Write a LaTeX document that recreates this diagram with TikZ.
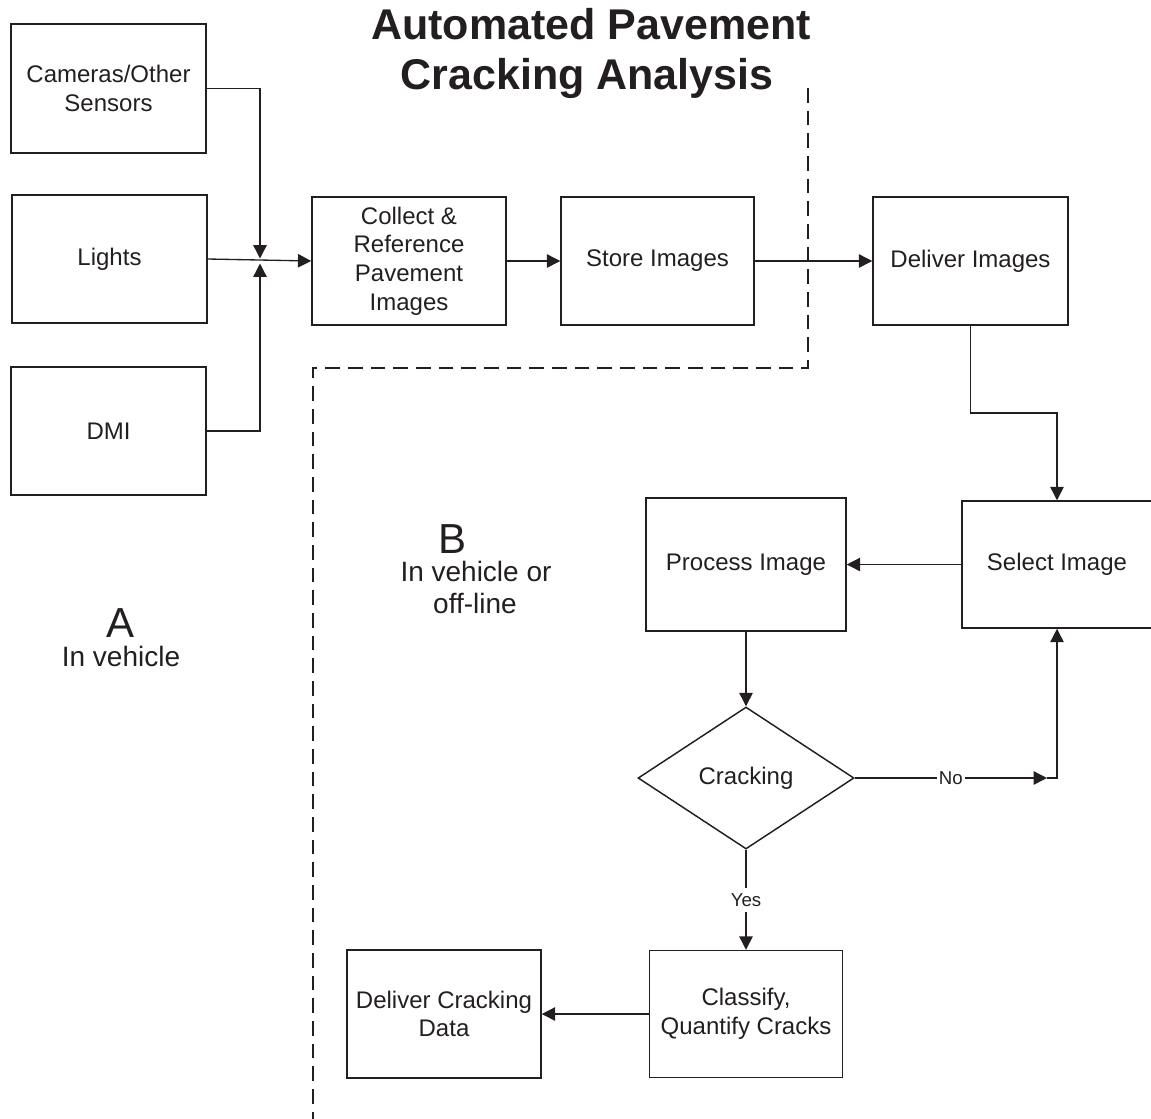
\documentclass[tikz,border=0pt]{standalone}
\usepackage{fontspec}
\setmainfont{Liberation Sans}
\usetikzlibrary{arrows.meta,shapes.geometric}
\definecolor{ink}{RGB}{35,31,32}
\begin{document}
\begin{tikzpicture}[x=0.75pt,y=-0.75pt,
  wh/.style 2 args={minimum width=#1*0.75pt, minimum height=#2*0.75pt},
  box/.style={draw=ink, line width=1.1pt, inner sep=0pt, align=center,
    text=ink, font=\fontsize{18}{21.5}\selectfont},
  decision/.style={box, shape=diamond},
  conn/.style={draw=ink, line width=1pt},
  arr/.style={conn, -{Triangle[length=10pt,width=10pt]}},
  lbl/.style={fill=white, text=ink, inner sep=1.5pt, font=\fontsize{14}{16}\selectfont},
  title/.style={anchor=base, text=ink, inner sep=0pt, font=\fontsize{32.25}{38}\selectfont\bfseries},
  biglabel/.style={anchor=base, text=ink, inner sep=0pt, font=\fontsize{31.5}{36}\selectfont},
  sublabel/.style={anchor=base, text=ink, inner sep=0pt, font=\fontsize{21}{24}\selectfont},
  zone/.style={draw=ink, line width=1.5pt, dash pattern=on 11pt off 6pt}
]
\useasboundingbox (0,0) rectangle (1151,1118);

% heading
\node[title] (head1) at (591,39) {Automated Pavement};
\node[title] (head2) at (587,89) {Cracking Analysis};

% boundary between the in-vehicle part and the rest
\draw[zone] (808,88) -- (808,368) -- (313,368) -- (313,1125);

% zone labels
\node[biglabel] (zoneA) at (121,637) {A};
\node[sublabel] (zoneAsub) at (121,666) {In vehicle};
\node[biglabel] (zoneB) at (452,553) {B};
\node[sublabel] (zoneBsub1) at (476,581) {In vehicle or};
\node[sublabel] (zoneBsub2) at (475,613) {off-line};

% inputs
\node[box, wh={195}{129}] (cam) at (108.5,88.5) {Cameras/Other\\Sensors};
\node[box, wh={195}{128}] (lights) at (109.5,259) {Lights};
\node[box, wh={195}{128}] (dmi) at (108.5,431) {DMI};

% acquisition chain
\node[box, wh={194}{128}] (collect) at (409,261) {Collect \&\\Reference\\Pavement\\Images};
\node[box, wh={193}{128}] (store) at (657.5,261) {Store Images};
\node[box, wh={195}{128}] (deliver) at (970.5,261) {Deliver Images};

% analysis loop
\node[box, wh={190}{127}] (select) at (1057,564.5) {Select Image};
\node[box, wh={200}{133}] (process) at (746,564.5) {Process Image};
\node[decision, wh={216}{142}] (crack) at (746,778) {Cracking};
\node[box, wh={193}{127}] (classify) at (746,1014) {Classify,\\Quantify Cracks};
\node[box, wh={194}{128}] (output) at (444,1014) {Deliver Cracking\\Data};

% junction points
\coordinate (jtop) at (260,258.5);
\coordinate (jbot) at (260,263.5);
\coordinate (dbend) at (1057,413);
\coordinate (notip) at (1047,778);
\coordinate (nocorner) at (1057,778);

% connectors
\draw[arr] (cam.east) -| (jtop);
\draw[arr] (dmi.east) -| (jbot);
\draw[arr] (lights.east) -- (collect.west);
\draw[arr] (collect.east) -- (store.west);
\draw[arr] (store.east) -- (deliver.west);
\draw[arr] (deliver.south) |- (dbend) -- (select.north);
\draw[arr] (select.west) -- (process.east);
\draw[arr] (process.south) -- (crack.north);
\draw[arr] (crack.east) -- node[lbl] {No} (notip);
\draw[arr] (notip) -- (nocorner) -- (select.south);
\draw[arr] (crack.south) -- node[lbl, inner ysep=4pt] {Yes} (classify.north);
\draw[arr] (classify.west) -- (output.east);
\end{tikzpicture}
\end{document}
